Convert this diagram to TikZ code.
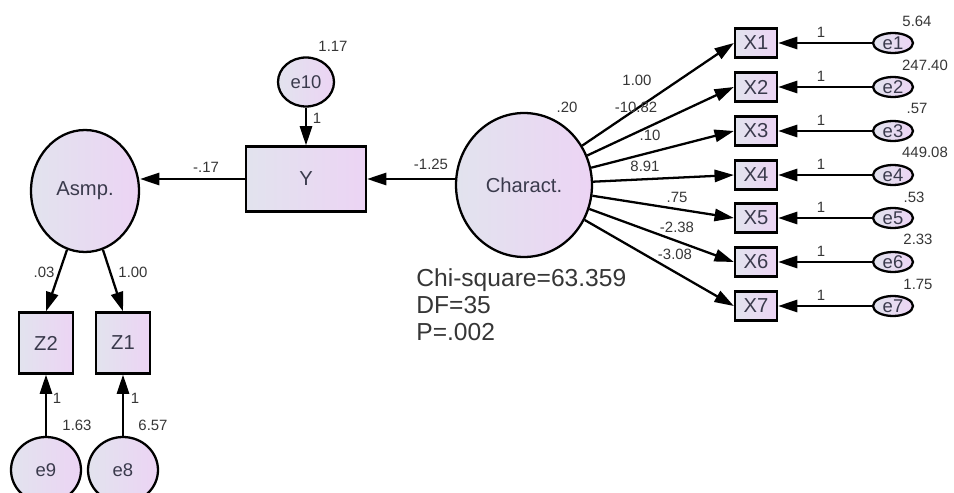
\documentclass[tikz,border=0pt]{standalone}
\usepackage{fontspec}
\setmainfont{Liberation Sans}
\usepackage{tikz}
\usetikzlibrary{shapes.geometric,arrows.meta}
\definecolor{shadeL}{HTML}{E2E3EE}
\definecolor{shadeR}{HTML}{ECD4F4}
\definecolor{ink}{HTML}{3A3A4C}
\definecolor{numink}{HTML}{363636}

\begin{document}
\begin{tikzpicture}[x=0.02cm, y=-0.02cm,
  latent/.style={ellipse, draw, line width=1.3pt, left color=shadeL, right color=shadeR, text=ink, inner sep=0pt, font=\fontsize{11.5}{13}\selectfont},
  observed/.style={rectangle, draw, line width=1.3pt, left color=shadeL, right color=shadeR, text=ink, inner sep=0pt, font=\fontsize{11.5}{13}\selectfont},
  errvar/.style={latent, font=\fontsize{10.5}{12}\selectfont},
  num/.style={inner sep=0pt, text=numink, font=\fontsize{8.5}{10}\selectfont},
  arr/.style={line width=1.3pt, -{Triangle[length=11pt,width=7pt]}}]
\useasboundingbox (0,0) rectangle (954,493);

\node[latent, minimum width=2.16cm, minimum height=2.44cm] (asmp) at (85,191) {Asmp.};
\node[observed, minimum width=2.4cm, minimum height=1.3cm] (y) at (306,179) {Y};
\node[errvar, minimum width=1.12cm, minimum height=0.98cm] (e10) at (306,82) {e10};
\node[latent, minimum width=2.72cm, minimum height=2.88cm] (charact) at (524,185) {Charact.};

\node[observed, minimum width=1.08cm, minimum height=1.22cm] (z2) at (46,343) {Z2};
\node[observed, minimum width=1.08cm, minimum height=1.22cm] (z1) at (123,343) {Z1};
\node[errvar, minimum width=1.4cm, minimum height=1.32cm] (e9) at (46,470) {e9};
\node[errvar, minimum width=1.4cm, minimum height=1.32cm] (e8) at (123,470) {e8};

\node[observed, minimum width=0.84cm, minimum height=0.58cm] (x1) at (756,43) {X1};
\node[observed, minimum width=0.84cm, minimum height=0.58cm] (x2) at (756,87) {X2};
\node[observed, minimum width=0.84cm, minimum height=0.58cm] (x3) at (756,131) {X3};
\node[observed, minimum width=0.84cm, minimum height=0.58cm] (x4) at (756,175) {X4};
\node[observed, minimum width=0.84cm, minimum height=0.58cm] (x5) at (756,218) {X5};
\node[observed, minimum width=0.84cm, minimum height=0.58cm] (x6) at (756,262) {X6};
\node[observed, minimum width=0.84cm, minimum height=0.58cm] (x7) at (756,306) {X7};

\node[errvar, minimum width=0.8cm, minimum height=0.4cm] (e1) at (893,43) {e1};
\node[errvar, minimum width=0.8cm, minimum height=0.4cm] (e2) at (893,87) {e2};
\node[errvar, minimum width=0.8cm, minimum height=0.4cm] (e3) at (893,131) {e3};
\node[errvar, minimum width=0.8cm, minimum height=0.4cm] (e4) at (893,175) {e4};
\node[errvar, minimum width=0.8cm, minimum height=0.4cm] (e5) at (893,218) {e5};
\node[errvar, minimum width=0.8cm, minimum height=0.4cm] (e6) at (893,262) {e6};
\node[errvar, minimum width=0.8cm, minimum height=0.4cm] (e7) at (893,306) {e7};

\draw[arr] (e10) -- (e10 |- y.north);
\draw[arr] (y.west) -- (y.west -| asmp.east);
\draw[arr] (y.east -| charact.west) -- (y.east);
\draw[arr] (asmp.253) -- (z2.north);
\draw[arr] (asmp.287) -- (z1.north);
\draw[arr] (e9) -- (z2);
\draw[arr] (e8) -- (z1);

\draw[arr] (charact) -- (x1.west);
\draw[arr] (charact) -- (x2.west);
\draw[arr] (charact) -- (x3.west);
\draw[arr] (charact) -- (x4.west);
\draw[arr] (charact) -- (x5.west);
\draw[arr] (charact) -- (x6.west);
\draw[arr] (charact) -- (x7.west);

\draw[arr] (e1) -- (x1);
\draw[arr] (e2) -- (x2);
\draw[arr] (e3) -- (x3);
\draw[arr] (e4) -- (x4);
\draw[arr] (e5) -- (x5);
\draw[arr] (e6) -- (x6);
\draw[arr] (e7) -- (x7);

\node[num] (v10) at (333,46) {1.17};
\node[num] (f10) at (317,118) {1};
\node[num] (wasmp) at (206,167) {-.17};
\node[num] (wy) at (431,164) {-1.25};
\node[num] (vchar) at (567,107) {.20};
\node[num] (lz2) at (44,272) {.03};
\node[num] (lz1) at (133,272) {1.00};
\node[num] (f9) at (57,398) {1};
\node[num] (f8) at (135,398) {1};
\node[num] (v9) at (77,425) {1.63};
\node[num] (v8) at (153,425) {6.57};

\node[num] (l1) at (637,80) {1.00};
\node[num] (l2) at (636,107) {-10.82};
\node[num] (l3) at (650,135) {.10};
\node[num] (l4) at (645,166) {8.91};
\node[num] (l5) at (677,197) {.75};
\node[num] (l6) at (677,227) {-2.38};
\node[num] (l7) at (675,254) {-3.08};

\node[num] (f1) at (821,32) {1};
\node[num] (f2) at (821,76) {1};
\node[num] (f3) at (821,120) {1};
\node[num] (f4) at (821,164) {1};
\node[num] (f5) at (821,207) {1};
\node[num] (f6) at (821,251) {1};
\node[num] (f7) at (821,295) {1};

\node[num] (v1) at (917,21) {5.64};
\node[num] (v2) at (925,65) {247.40};
\node[num] (v3) at (917,108) {.57};
\node[num] (v4) at (925,152) {449.08};
\node[num] (v5) at (914,197) {.53};
\node[num] (v6) at (918,239) {2.33};
\node[num] (v7) at (918,284) {1.75};

\node[anchor=west, align=left, inner sep=0pt, text=numink, font=\fontsize{14}{15.4}\selectfont] (fit) at (416,305) {Chi-square=63.359\\DF=35\\P=.002};
\end{tikzpicture}
\end{document}
